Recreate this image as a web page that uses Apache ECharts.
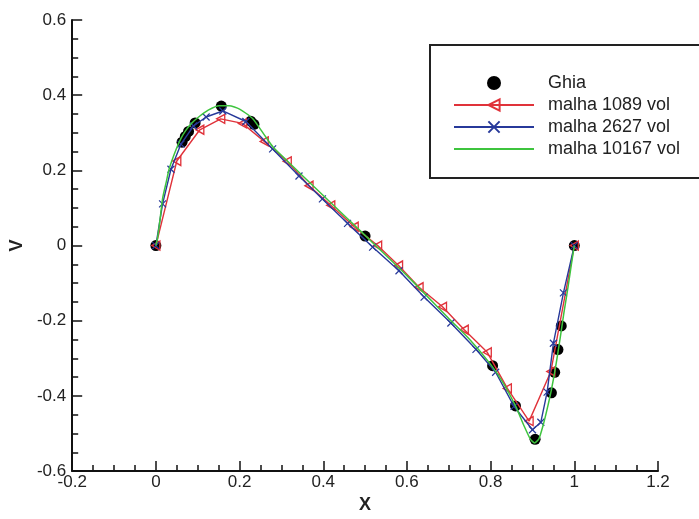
<!DOCTYPE html>
<html>
<head>
<meta charset="utf-8">
<script src="https://cdn.jsdelivr.net/npm/echarts@6/dist/echarts.min.js"></script>
<style>html,body{margin:0;padding:0;background:#fff;}#c{width:699px;height:519px;}</style>
</head>
<body>
<div id="c"></div>
<script>
// Ghia et al. reference points (Re = 1000)
const ghiaX = [0, 0.0625, 0.0703, 0.0781, 0.0938, 0.1563, 0.2266, 0.2344, 0.5, 0.8047, 0.8594, 0.9063, 0.9453, 0.9531, 0.9609, 0.9688, 1];
const ghiaV = [0, 0.27485, 0.29012, 0.30353, 0.32627, 0.37095, 0.33075, 0.32235, 0.02526, -0.31966, -0.42665, -0.5155, -0.39188, -0.33714, -0.27669, -0.21388, 0];

// malha 1089 vol
const m1089X = [0, 0.05, 0.105, 0.155, 0.207, 0.259, 0.314, 0.366, 0.418, 0.474, 0.53, 0.58, 0.629, 0.685, 0.737, 0.792, 0.84, 0.892, 0.944, 1];
const m1089V = [0, 0.225, 0.308, 0.337, 0.325, 0.277, 0.224, 0.159, 0.107, 0.05, 0.0, -0.053, -0.111, -0.163, -0.224, -0.284, -0.38, -0.467, -0.335, 0];

// malha 2627 vol
const m2627X = [0, 0.016, 0.036, 0.06, 0.09, 0.12, 0.16, 0.215, 0.279, 0.342, 0.398, 0.458, 0.518, 0.581, 0.641, 0.705, 0.765, 0.812, 0.856, 0.9, 0.92, 0.935, 0.95, 0.974, 1];
const m2627V = [0, 0.111, 0.203, 0.27, 0.318, 0.342, 0.358, 0.33, 0.257, 0.185, 0.124, 0.059, -0.004, -0.067, -0.137, -0.206, -0.276, -0.337, -0.428, -0.49, -0.47, -0.39, -0.26, -0.126, 0];

// malha 10167 vol
const m10167X = [0, 0.004, 0.01, 0.016, 0.025, 0.032, 0.048, 0.06, 0.072, 0.085, 0.1, 0.125, 0.151, 0.175, 0.2, 0.231, 0.26, 0.28, 0.3, 0.4, 0.5, 0.6, 0.7, 0.75, 0.8, 0.83, 0.86, 0.88, 0.895, 0.905, 0.915, 0.925, 0.935, 0.945, 0.955, 0.965, 0.975, 0.985, 0.993, 1];
const m10167V = [0, 0.02, 0.07, 0.125, 0.17, 0.205, 0.255, 0.285, 0.307, 0.325, 0.34, 0.36, 0.372, 0.372, 0.363, 0.338, 0.293, 0.262, 0.24, 0.133, 0.027, -0.08, -0.194, -0.25, -0.316, -0.365, -0.428, -0.48, -0.515, -0.525, -0.515, -0.48, -0.435, -0.385, -0.325, -0.255, -0.18, -0.11, -0.05, 0];

const seriesNames = ['Ghia', 'malha 1089 vol', 'malha 2627 vol', 'malha 10167 vol'];
const xTicks = [-0.2, 0, 0.2, 0.4, 0.6, 0.8, 1, 1.2];
const yTicks = [-0.6, -0.4, -0.2, 0, 0.2, 0.4, 0.6];

const zip = (a, b) => a.map((v, i) => [v, b[i]]);
const FONT = 'Liberation Sans, Arial, sans-serif';
const RED = '#e0323a', BLUE = '#27399a', GREEN = '#3ec43e';

const chart = echarts.init(document.getElementById('c'), null, {renderer: 'canvas'});
const axisCommon = {
  type: 'value',
  axisLine: {show: true, onZero: false, lineStyle: {color: '#111', width: 2}},
  axisTick: {show: true, inside: true, length: 10, lineStyle: {color: '#111', width: 1.5}},
  minorTick: {show: true, splitNumber: 4, length: 6, lineStyle: {color: '#111', width: 1.5}},
  splitLine: {show: false},
  axisLabel: {fontSize: 17, color: '#222', fontFamily: FONT, showMinLabel: true, showMaxLabel: true},
  nameLocation: 'middle',
  nameTextStyle: {fontSize: 18, fontWeight: 'bold', color: '#222', fontFamily: FONT}
};
chart.setOption({
  animation: false,
  backgroundColor: '#fff',
  grid: {left: 72, right: 41, top: 20, bottom: 40, containLabel: false},
  xAxis: Object.assign({}, axisCommon, {
    min: xTicks[0], max: xTicks[xTicks.length - 1], interval: 0.2,
    name: 'X', nameGap: 22,
    axisLabel: Object.assign({}, axisCommon.axisLabel, {margin: 3})
  }),
  yAxis: Object.assign({}, axisCommon, {
    min: yTicks[0], max: yTicks[yTicks.length - 1], interval: 0.2,
    name: 'V', nameGap: 44,
    axisLabel: Object.assign({}, axisCommon.axisLabel, {margin: 6})
  }),
  legend: {
    orient: 'vertical', left: 453, top: 74, padding: 0,
    itemWidth: 80, itemHeight: 14, itemGap: 4,
    textStyle: {fontSize: 18, color: '#222', fontFamily: FONT, padding: [0, 0, 0, 9]},
    data: [
      seriesNames[0], seriesNames[1], seriesNames[2],
      {name: seriesNames[3], icon: 'path://M0,0H80V2H0Z'}
    ]
  },
  graphic: [{
    type: 'rect', left: 429, top: 44, silent: true,
    shape: {width: 290, height: 133},
    style: {fill: 'transparent', stroke: '#222', lineWidth: 2}
  }],
  series: [
    {
      name: seriesNames[0], type: 'scatter', data: zip(ghiaX, ghiaV),
      symbol: 'circle', symbolSize: 11, itemStyle: {color: '#000', opacity: 1}, z: 2
    },
    {
      name: seriesNames[1], type: 'line', data: zip(m1089X, m1089V),
      symbol: 'path://M10,0L0,5L10,10Z', symbolSize: [8, 9], showAllSymbol: true,
      itemStyle: {color: 'rgba(255,255,255,0)', borderColor: RED, borderWidth: 1.4},
      lineStyle: {color: RED, width: 1.4}, z: 3
    },
    {
      name: seriesNames[2], type: 'line', data: zip(m2627X, m2627V),
      symbol: 'path://M0,0L10,10M10,0L0,10', symbolSize: 7, showAllSymbol: true,
      itemStyle: {color: 'rgba(255,255,255,0)', borderColor: BLUE, borderWidth: 1.2},
      lineStyle: {color: BLUE, width: 1.4}, z: 4
    },
    {
      name: seriesNames[3], type: 'line', data: zip(m10167X, m10167V),
      symbol: 'none', smooth: 0.2,
      itemStyle: {color: GREEN},
      lineStyle: {color: GREEN, width: 1.5}, z: 5
    }
  ]
});
</script>
</body>
</html>
